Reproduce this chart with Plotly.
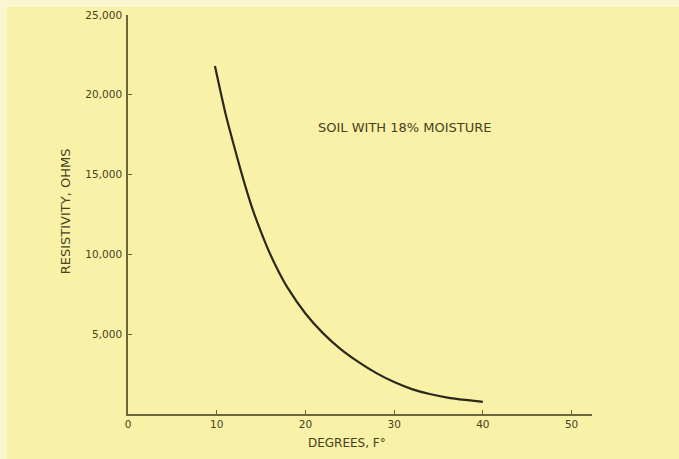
import plotly.graph_objects as go

# values
degrees = [9.8, 11, 12, 13, 14, 15, 16, 17, 18, 20, 22, 24, 26, 28, 30, 32,
           34, 36, 38, 40]
resistivity = [21800, 18800, 16700, 14700, 12900, 11400, 10050, 8900, 7900,
               6300, 5050, 4050, 3250, 2560, 2000, 1560, 1250, 1030, 880, 760]

x_ticks = [0, 10, 20, 30, 40, 50]
y_ticks = [5000, 10000, 15000, 20000, 25000]
y_tick_labels = ["5,000", "10,000", "15,000", "20,000", "25,000"]

PAPER = "#f9f1a7"
EDGE = "#fbf5d0"   # pale strip of the scan along the top and left edges
INK = "#46421c"
AXIS = "#6a663a"
FONT = "DejaVu Sans"

fig = go.Figure()

fig.add_trace(
    go.Scatter(
        x=degrees,
        y=resistivity,
        mode="lines",
        line=dict(color="#2b2817", width=2.2, shape="spline", smoothing=0.8),
        showlegend=False,
        hoverinfo="skip",
    )
)

fig.add_annotation(
    x=31.2, y=17980,
    text="SOIL WITH 18% MOISTURE",
    showarrow=False,
    font=dict(family=FONT, size=13, color=INK),
)

# axis titles placed by hand to match the scan
fig.add_annotation(
    x=24.7, y=0, yshift=-29,
    text="DEGREES, F°",
    showarrow=False,
    font=dict(family=FONT, size=12, color=INK),
)
fig.add_annotation(
    xref="paper", x=0, xshift=-63, xanchor="center", y=12700,
    text="RESISTIVITY, OHMS",
    textangle=-90,
    showarrow=False,
    font=dict(family=FONT, size=13, color=INK),
)

axis_style = dict(
    ticks="inside",
    ticklen=4,
    tickcolor=AXIS,
    tickwidth=1.2,
    showline=True,
    linecolor=AXIS,
    linewidth=1.6,
    showgrid=False,
    zeroline=False,
    automargin=False,
    tickfont=dict(family=FONT, size=10.5, color=INK),
)

fig.update_xaxes(
    range=[0, 52.3],
    tickvals=x_ticks,
    ticktext=[str(v) for v in x_ticks],
    **axis_style,
)
fig.update_yaxes(
    range=[0, 25000],
    tickvals=y_ticks,
    ticktext=y_tick_labels,
    ticklabelstandoff=2,
    **axis_style,
)

fig.update_layout(
    width=672,
    height=452,
    margin=dict(l=121, r=87, t=8, b=45),
    paper_bgcolor=PAPER,
    plot_bgcolor=PAPER,
)

# the page sits 7px in from the top-left, on the pale edge colour of the scan
page_css = (
    "document.body.style.margin='0';"
    "document.body.style.padding='7px 0 0 7px';"
    f"document.body.style.background='{EDGE}';"
    "document.body.style.overflow='hidden';"
)

fig.write_html("out.html", post_script=page_css)
